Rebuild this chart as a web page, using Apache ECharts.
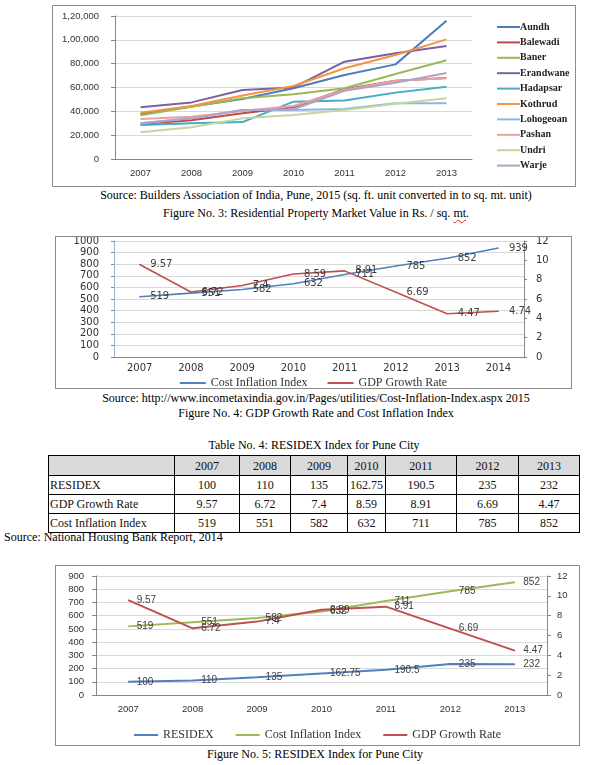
<!DOCTYPE html>
<html><head><meta charset="utf-8">
<script src="https://cdn.jsdelivr.net/npm/echarts/dist/echarts.min.js"></script>
<style>
body{margin:0;width:615px;height:765px;position:relative;background:#fff;font-family:'Liberation Serif','Times New Roman',serif;overflow:hidden;color:#000}
.box{position:absolute;border:1px solid #8c8c8c;box-sizing:border-box;background:#fff}
.cap{position:absolute;left:0;width:632px;text-align:center;font-size:12px;line-height:14px;white-space:nowrap}
.sq{text-decoration:underline wavy #e02020;text-decoration-thickness:1px;text-underline-offset:2px}
table{position:absolute;left:48px;top:455px;border-collapse:collapse;font-size:12px;table-layout:fixed;color:#111}
td{border:1px solid #000;padding:0 2px;text-align:center;height:18px;line-height:16px;white-space:nowrap;font-weight:normal}
tr.h td{background:#d9d9d9;height:19px}
td.l{text-align:left;padding-left:1px}
</style></head>
<body>
<div class="box" id="c1" style="left:52px;top:5px;width:524px;height:182px"></div>
<div class="cap" style="top:188px">Source: Builders Association of India, Pune, 2015 (sq. ft. unit converted in to sq. mt. unit)</div>
<div class="cap" style="top:206px">Figure No. 3: Residential Property Market Value in Rs. / sq. <span class="sq">mt</span>.</div>
<div class="box" id="c2" style="left:55px;top:236px;width:517px;height:153px"></div>
<div class="cap" style="top:391px">Source: http://www.incometaxindia.gov.in/Pages/utilities/Cost-Inflation-Index.aspx 2015</div>
<div class="cap" style="top:406px">Figure No. 4: GDP Growth Rate and Cost Inflation Index</div>
<div class="cap" style="top:438px;width:628px">Table No. 4: RESIDEX Index for Pune City</div>
<table id="tbl"></table>
<div style="position:absolute;left:4px;top:530px;font-size:12px;line-height:14px;white-space:nowrap">Source: National Housing Bank Report, 2014</div>
<div class="box" id="c3" style="left:55px;top:565px;width:525px;height:181px"></div>
<div class="cap" style="top:747px;width:630px">Figure No. 5: RESIDEX Index for Pune City</div>
<script>
// ---------- Figure 3 data ----------
const years1 = ['2007','2008','2009','2010','2011','2012','2013'];
const aundh     = [38000, 44000, 50300, 59300, 70500, 79400, 116000];
const balewadi  = [29400, 32500, 38300, 43400, 58500, 65700, 68000];
const baner     = [36600, 43900, 50900, 54300, 59300, 71300, 82800];
const erandwane = [43400, 47500, 57900, 60100, 81700, 88700, 94800];
const hadapsar  = [28500, 29900, 31000, 48100, 49000, 55700, 60700];
const kothrud   = [38900, 44500, 53200, 61300, 76100, 87300, 100400];
const lohogeoan = [30000, 34100, 41100, 41100, 42000, 46700, 46700];
const pashan    = [33600, 35500, 40300, 44500, 57900, 65700, 67700];
const undri     = [22400, 26600, 34100, 36900, 41100, 46400, 50900];
const warje     = [30000, 34100, 41100, 41700, 57300, 64000, 72200];
const areaNames = ['Aundh','Balewadi','Baner','Erandwane','Hadapsar','Kothrud','Lohogeoan','Pashan','Undri','Warje'];
const areaColors = ['#4A7EBB','#BE4B48','#98B954','#7D60A0','#46AAC5','#F69240','#8EB4E3','#E6A3A1','#C3D69B','#B3A2C7'];
const areaData = [aundh,balewadi,baner,erandwane,hadapsar,kothrud,lohogeoan,pashan,undri,warje];
const yTicks1 = ['0','20,000','40,000','60,000','80,000','1,00,000','1,20,000'];

// ---------- Figure 4 data ----------
const years2 = ['2007','2008','2009','2010','2011','2012','2013','2014'];
const cii2 = [519, 551, 582, 632, 711, 785, 852, 939];
const gdp2 = [9.57, 6.72, 7.4, 8.59, 8.91, 6.69, 4.47, 4.74];

// ---------- Table / Figure 5 data ----------
const years3 = ['2007','2008','2009','2010','2011','2012','2013'];
const residex = [100, 110, 135, 162.75, 190.5, 235, 232];
const gdp3 = [9.57, 6.72, 7.4, 8.59, 8.91, 6.69, 4.47];
const cii3 = [519, 551, 582, 632, 711, 785, 852];
const residexLabels = ['100','110','135','162.75','190.5','235','232'];

// ---------- Table ----------
const colW = [126, 65, 51, 57, 38, 71, 62, 61];
(function(){
  const t = document.getElementById('tbl');
  let html = '<colgroup>' + colW.map(w=>'<col style="width:'+w+'px">').join('') + '</colgroup>';
  html += '<tr class="h"><td></td>' + years3.map(y=>'<td>'+y+'</td>').join('') + '</tr>';
  const rows = [['RESIDEX', residexLabels], ['GDP Growth Rate', gdp3.map(String)], ['Cost Inflation Index', cii3.map(String)]];
  rows.forEach(r=>{ html += '<tr><td class="l">'+r[0]+'</td>' + r[1].map(v=>'<td>'+v+'</td>').join('') + '</tr>'; });
  t.innerHTML = html;
})();

const gridCol = '#d9d9d9', axCol = '#868686', lblCol = '#404040';
const plain = (v)=>String(v);

// ---------- Chart 1 ----------
const ch1 = echarts.init(document.getElementById('c1'), null, {renderer:'canvas'});
ch1.setOption({
  animation:false,
  grid:{left:62, right:103, top:10, bottom:27, containLabel:false, outerBoundsMode:'none'},
  legend:{orient:'vertical', left:439, top:10, icon:'rect', itemWidth:23, itemHeight:2, itemGap:3.4,
    data:areaNames,
    textStyle:{fontFamily:'"Liberation Serif", serif', fontWeight:'bold', fontSize:10, color:'#222', lineHeight:12, padding:[0,0,0,-5]}},
  xAxis:{type:'category', data:years1, boundaryGap:true,
    axisLine:{lineStyle:{color:axCol}}, axisTick:{length:4, lineStyle:{color:axCol}},
    axisLabel:{fontFamily:'Liberation Sans', fontSize:9.5, color:'#333', margin:9}},
  yAxis:{type:'value', min:0, max:120000, interval:20000,
    axisLine:{show:true, lineStyle:{color:axCol}}, axisTick:{show:true, length:4, lineStyle:{color:axCol}},
    splitLine:{lineStyle:{color:gridCol}},
    axisLabel:{fontFamily:'Liberation Sans', fontSize:9.5, color:'#333', margin:16,
      formatter:(v)=>yTicks1[Math.round(v/20000)]}},
  series: areaNames.map((n,i)=>({name:n, type:'line', data:areaData[i], symbol:'none',
    lineStyle:{width:2, color:areaColors[i]}, itemStyle:{color:areaColors[i]}}))
});

// ---------- Chart 2 ----------
const ch2 = echarts.init(document.getElementById('c2'));
const lab2 = {show:true, position:'right', distance:10, fontFamily:'DejaVu Sans', fontSize:10, color:lblCol};
ch2.setOption({
  animation:false,
  grid:{left:58, right:47, top:4, bottom:31, containLabel:false, outerBoundsMode:'none'},
  legend:{top:135, left:'center', icon:'rect', itemWidth:26, itemHeight:2, itemGap:20,
    data:['Cost Inflation Index','GDP Growth Rate'],
    textStyle:{fontFamily:'Liberation Serif', fontSize:12, color:'#333'}},
  xAxis:{type:'category', data:years2, boundaryGap:true,
    axisLine:{lineStyle:{color:axCol}}, axisTick:{length:3, lineStyle:{color:axCol}},
    axisLabel:{fontFamily:'DejaVu Sans', fontSize:10, color:'#333', margin:6}},
  yAxis:[
    {type:'value', min:0, max:1000, interval:100,
      axisLine:{show:true, lineStyle:{color:'#95B3D7'}}, axisTick:{show:true, length:3, lineStyle:{color:axCol}},
      splitLine:{lineStyle:{color:gridCol}},
      axisLabel:{fontFamily:'DejaVu Sans', fontSize:10, color:'#333', margin:15, formatter:plain}},
    {type:'value', min:0, max:12, interval:2, position:'right',
      axisLine:{show:true, lineStyle:{color:axCol}}, axisTick:{show:true, length:3, lineStyle:{color:axCol}},
      splitLine:{show:false},
      axisLabel:{fontFamily:'DejaVu Sans', fontSize:10, color:'#333', margin:12, formatter:plain}}
  ],
  series:[
    {name:'Cost Inflation Index', type:'line', data:cii2, yAxisIndex:0, symbol:'circle', symbolSize:1, showSymbol:true,
      lineStyle:{width:1.6, color:'#4F81BD'}, itemStyle:{color:'#4F81BD'}, label:lab2},
    {name:'GDP Growth Rate', type:'line', data:gdp2, yAxisIndex:1, symbol:'circle', symbolSize:1, showSymbol:true,
      lineStyle:{width:1.6, color:'#C0504D'}, itemStyle:{color:'#C0504D'}, label:lab2}
  ]
});

// ---------- Chart 3 ----------
const ch3 = echarts.init(document.getElementById('c3'));
const lab3 = {show:true, position:'right', distance:8, fontFamily:'Liberation Sans', fontSize:10, color:lblCol};
ch3.setOption({
  animation:false,
  grid:{left:40, right:32, top:10, bottom:50, containLabel:false, outerBoundsMode:'none'},
  legend:{top:158, left:'center', icon:'rect', itemWidth:24, itemHeight:2, itemGap:22,
    data:['RESIDEX','Cost Inflation Index','GDP Growth Rate'],
    textStyle:{fontFamily:'Liberation Serif', fontSize:12, color:'#333'}},
  xAxis:{type:'category', data:years3, boundaryGap:true,
    axisLine:{lineStyle:{color:axCol}}, axisTick:{length:4, lineStyle:{color:axCol}},
    axisLabel:{fontFamily:'Liberation Sans', fontSize:9.5, color:'#333', margin:9}},
  yAxis:[
    {type:'value', min:0, max:900, interval:100,
      axisLine:{show:true, lineStyle:{color:axCol}}, axisTick:{show:true, length:4, lineStyle:{color:axCol}},
      splitLine:{lineStyle:{color:gridCol}},
      axisLabel:{fontFamily:'Liberation Sans', fontSize:9.5, color:'#333', margin:12, formatter:plain}},
    {type:'value', min:0, max:12, interval:2, position:'right',
      axisLine:{show:true, lineStyle:{color:axCol}}, axisTick:{show:true, length:4, lineStyle:{color:axCol}},
      splitLine:{show:false},
      axisLabel:{fontFamily:'Liberation Sans', fontSize:9.5, color:'#333', margin:10, formatter:plain}}
  ],
  series:[
    {name:'RESIDEX', type:'line', data:residex, yAxisIndex:0, symbol:'circle', symbolSize:1, showSymbol:true,
      lineStyle:{width:2, color:'#4F81BD'}, itemStyle:{color:'#4F81BD'},
      label:Object.assign({}, lab3, {formatter:(p)=>residexLabels[p.dataIndex]})},
    {name:'Cost Inflation Index', type:'line', data:cii3, yAxisIndex:0, symbol:'circle', symbolSize:1, showSymbol:true,
      lineStyle:{width:2, color:'#9BBB59'}, itemStyle:{color:'#9BBB59'}, label:lab3},
    {name:'GDP Growth Rate', type:'line', data:gdp3, yAxisIndex:1, symbol:'circle', symbolSize:1, showSymbol:true,
      lineStyle:{width:2, color:'#C0504D'}, itemStyle:{color:'#C0504D'}, label:lab3}
  ]
});
</script>
</body></html>
